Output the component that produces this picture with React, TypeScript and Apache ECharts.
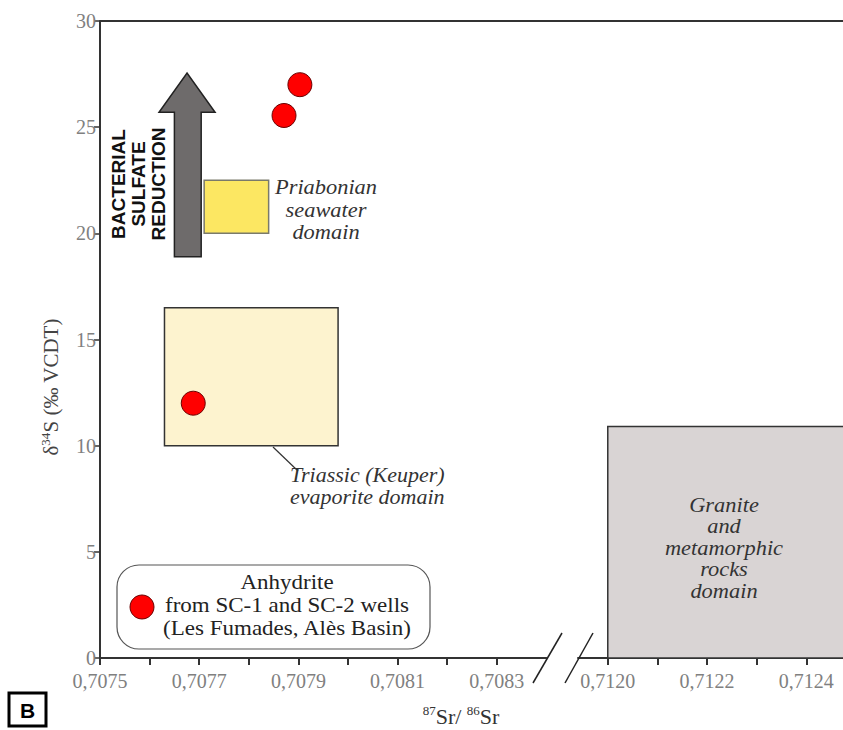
import React, { useEffect, useRef } from "react";
import * as echarts from "echarts";

// ---- data ----
const leftTicks = [0.7075, 0.7076, 0.7077, 0.7078, 0.7079, 0.708, 0.7081, 0.7082, 0.7083];
const leftLabels = [0.7075, 0.7077, 0.7079, 0.7081, 0.7083];
const rightTicks = [0.712, 0.7121, 0.7122, 0.7123, 0.7124];
const rightLabels = [0.712, 0.7122, 0.7124];
const yTicks = [0, 5, 10, 15, 20, 25, 30];

const anhydrite = [
  [0.707903, 27.0],
  [0.707871, 25.55],
  [0.707688, 12.0],
];

// domain boxes: [x0, x1, y0, y1]
const priabonianBox = [0.70771, 0.70784, 20.0, 22.5];
const triassicBox = [0.70763, 0.70798, 10.0, 16.5];
const graniteBox = [0.712, 0.7126, 0.0, 10.9];

// arrow: shaft x, head x, y (bottom, head base, tip)
const arrowShaftX = [0.70765, 0.707704];
const arrowHeadX = [0.707619, 0.707732];
const arrowY = [18.9, 25.7, 27.55];

const SERIF = "'Liberation Serif', 'Times New Roman', serif";
const SANS = "'Liberation Sans', Arial, sans-serif";

const fmt = (v: number) => v.toFixed(4).replace(".", ",");

function rectItem(fill: string, stroke: string) {
  return (params: any, api: any) => {
    const p0 = api.coord([api.value(0), api.value(3)]);
    const p1 = api.coord([api.value(1), api.value(2)]);
    return {
      type: "rect",
      shape: { x: p0[0], y: p0[1], width: p1[0] - p0[0], height: p1[1] - p0[1] },
      style: { fill, stroke, lineWidth: 1.5 },
    };
  };
}

export default function App() {
  const ref = useRef<HTMLDivElement>(null);
  useEffect(() => {
    if (!ref.current) return;
    const chart = echarts.init(ref.current, null, { renderer: "svg" });
    const axisLabelStyle = { color: "#808080", fontFamily: SERIF, fontSize: 20 };
    const axisLineStyle = { lineStyle: { color: "#333", width: 2 } };
    const option: any = {
      animation: false,
      backgroundColor: "#ffffff",
      grid: [
        { left: 100, top: 21, width: 446.4, height: 637 },
        { left: 578, top: 21, width: 265, height: 637 },
      ],
      xAxis: [
        {
          type: "value",
          gridIndex: 0,
          min: 0.7075,
          max: 0.7084,
          axisLine: axisLineStyle,
          axisTick: { show: true, inside: false, length: 7, customValues: leftTicks, lineStyle: { color: "#333", width: 2 } },
          axisLabel: { ...axisLabelStyle, margin: 13, customValues: leftLabels, formatter: fmt },
          splitLine: { show: false },
        },
        {
          type: "value",
          gridIndex: 1,
          min: 0.71194,
          max: 0.712474,
          axisLine: axisLineStyle,
          axisTick: { show: true, inside: false, length: 7, customValues: rightTicks, lineStyle: { color: "#333", width: 2 } },
          axisLabel: { ...axisLabelStyle, margin: 13, customValues: rightLabels, formatter: fmt },
          splitLine: { show: false },
        },
      ],
      yAxis: [
        {
          type: "value",
          gridIndex: 0,
          min: 0,
          max: 30,
          axisLine: { show: true, ...axisLineStyle },
          axisTick: { show: true, inside: false, length: 6, customValues: yTicks, lineStyle: { color: "#333", width: 1.5 } },
          axisLabel: { ...axisLabelStyle, margin: 4, customValues: yTicks },
          splitLine: { show: false },
        },
        {
          type: "value",
          gridIndex: 1,
          min: 0,
          max: 30,
          show: false,
          splitLine: { show: false },
        },
      ],
      series: [
        {
          type: "custom",
          xAxisIndex: 0,
          yAxisIndex: 0,
          data: [triassicBox],
          renderItem: rectItem("#FDF3CF", "#333333"),
          z: 1,
        },
        {
          type: "custom",
          xAxisIndex: 0,
          yAxisIndex: 0,
          data: [priabonianBox],
          renderItem: rectItem("#FCE762", "#7a7a6a"),
          z: 1,
        },
        {
          type: "custom",
          xAxisIndex: 1,
          yAxisIndex: 1,
          clip: true,
          data: [graniteBox],
          renderItem: rectItem("#D9D4D4", "#333333"),
          z: 1,
        },
        {
          type: "custom",
          xAxisIndex: 0,
          yAxisIndex: 0,
          data: [[arrowShaftX[0], arrowShaftX[1], arrowHeadX[0], arrowHeadX[1], arrowY[0], arrowY[1], arrowY[2]]],
          renderItem: (params: any, api: any) => {
            const sx0 = api.value(0), sx1 = api.value(1), hx0 = api.value(2), hx1 = api.value(3);
            const yb = api.value(4), yh = api.value(5), yt = api.value(6);
            const tx = (hx0 + hx1) / 2;
            const pts = [
              [sx0, yb], [sx1, yb], [sx1, yh], [hx1, yh], [tx, yt], [hx0, yh], [sx0, yh],
            ].map((p) => api.coord(p));
            return {
              type: "polygon",
              shape: { points: pts },
              style: { fill: "#6E6B6B", stroke: "#222", lineWidth: 1.5 },
            };
          },
          z: 2,
        },
        {
          type: "scatter",
          xAxisIndex: 0,
          yAxisIndex: 0,
          data: anhydrite,
          symbol: "circle",
          symbolSize: 24,
          itemStyle: { color: "#FF0000", borderColor: "#6a0000", borderWidth: 1, opacity: 1 },
          z: 5,
        },
      ],
      graphic: [
        // top frame line
        { type: "line", z: 20, shape: { x1: 100, y1: 21, x2: 843, y2: 21 }, style: { stroke: "#333", lineWidth: 2 } },
        // axis break marks
        { type: "line", z: 20, shape: { x1: 533, y1: 683, x2: 562, y2: 633 }, style: { stroke: "#222", lineWidth: 1.5 } },
        { type: "line", z: 20, shape: { x1: 565, y1: 683, x2: 593, y2: 633 }, style: { stroke: "#222", lineWidth: 1.5 } },
        // y axis title
        {
          type: "text",
          z: 20,
          x: 51,
          y: 387,
          rotation: Math.PI / 2,
          style: {
            text: "{a|δ}{s|34}{a|S (‰ VCDT)}",
            align: "center",
            verticalAlign: "middle",
            rich: {
              a: { fontFamily: SERIF, fontSize: 21, fill: "#444", lineHeight: 24 },
              s: { fontFamily: SERIF, fontSize: 13, fill: "#444", lineHeight: 24, verticalAlign: "top", padding: [0, 0, 8, 0] },
            },
          },
        },
        // x axis title
        {
          type: "text",
          z: 20,
          x: 461,
          y: 716,
          style: {
            text: "{s|87}{a|Sr/ }{s|86}{a|Sr}",
            align: "center",
            verticalAlign: "middle",
            rich: {
              a: { fontFamily: SERIF, fontSize: 22, fill: "#333", lineHeight: 24 },
              s: { fontFamily: SERIF, fontSize: 13, fill: "#333", lineHeight: 24, verticalAlign: "top", padding: [0, 0, 8, 0] },
            },
          },
        },
        // bacterial sulfate reduction
        {
          type: "text",
          z: 20,
          x: 138,
          y: 184,
          rotation: Math.PI / 2,
          style: {
            text: "BACTERIAL\nSULFATE\nREDUCTION",
            align: "center",
            verticalAlign: "middle",
            fontFamily: SANS,
            fontWeight: "bold",
            fontSize: 19,
            lineHeight: 20,
            fill: "#111",
          },
        },
        // Priabonian label
        {
          type: "text",
          z: 20,
          x: 326,
          y: 210,
          scaleX: 1.12,
          style: {
            text: "Priabonian\nseawater\ndomain",
            align: "center",
            verticalAlign: "middle",
            fontFamily: SERIF,
            fontStyle: "italic",
            fontSize: 20,
            lineHeight: 22.5,
            fill: "#333",
          },
        },
        // Triassic leader line and label
        { type: "line", z: 20, shape: { x1: 273, y1: 447, x2: 298, y2: 471 }, style: { stroke: "#333", lineWidth: 1.2 } },
        {
          type: "text",
          z: 20,
          x: 290,
          y: 486,
          scaleX: 1.1,
          style: {
            text: "Triassic (Keuper)\nevaporite domain",
            align: "left",
            verticalAlign: "middle",
            fontFamily: SERIF,
            fontStyle: "italic",
            fontSize: 20,
            lineHeight: 22,
            fill: "#333",
          },
        },
        // Granite label
        {
          type: "text",
          z: 20,
          x: 724,
          y: 548,
          scaleX: 1.12,
          style: {
            text: "Granite\nand\nmetamorphic\nrocks\ndomain",
            align: "center",
            verticalAlign: "middle",
            fontFamily: SERIF,
            fontStyle: "italic",
            fontSize: 20,
            lineHeight: 21.5,
            fill: "#333",
          },
        },
        // legend box
        {
          type: "rect",
          z: 20,
          shape: { x: 117, y: 565, width: 313, height: 84, r: 22 },
          style: { fill: "#fff", stroke: "#555", lineWidth: 1.2 },
        },
        {
          type: "circle",
          z: 21,
          shape: { cx: 142, cy: 607, r: 12 },
          style: { fill: "#FF0000", stroke: "#6a0000", lineWidth: 1 },
        },
        {
          type: "text",
          z: 21,
          x: 287,
          y: 606,
          scaleX: 1.15,
          style: {
            text: "Anhydrite\nfrom SC-1 and SC-2 wells\n(Les Fumades, Alès Basin)",
            align: "center",
            verticalAlign: "middle",
            fontFamily: SERIF,
            fontSize: 20,
            lineHeight: 23,
            fill: "#222",
          },
        },
        // panel letter B
        {
          type: "rect",
          z: 20,
          shape: { x: 9, y: 693, width: 37, height: 33 },
          style: { fill: "#fff", stroke: "#000", lineWidth: 3 },
        },
        {
          type: "text",
          z: 21,
          x: 27.5,
          y: 710,
          style: {
            text: "B",
            align: "center",
            verticalAlign: "middle",
            fontFamily: SANS,
            fontWeight: "bold",
            fontSize: 21,
            fill: "#000",
          },
        },
      ],
    };
    chart.setOption(option);
    return () => chart.dispose();
  }, []);
  return (
    <div
      ref={ref}
      style={{ position: "absolute", left: 0, top: 0, width: 843, height: 730, background: "#fff" }}
    />
  );
}
